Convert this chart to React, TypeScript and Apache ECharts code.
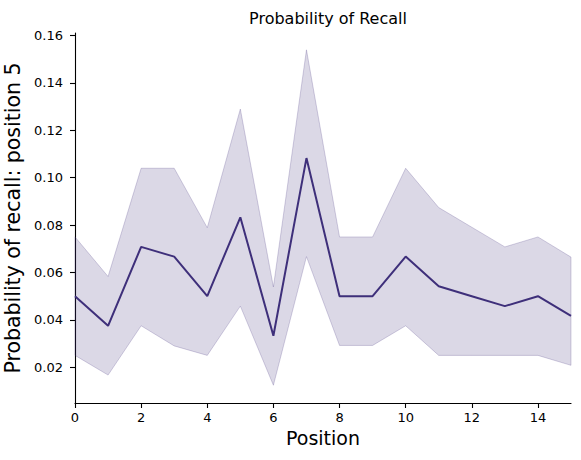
import React, { useEffect, useRef } from "react";
import * as echarts from "echarts";

const positions = [0, 1, 2, 3, 4, 5, 6, 7, 8, 9, 10, 11, 12, 13, 14, 15];
const meanRecall = [0.05, 0.0375, 0.0708, 0.0667, 0.05, 0.0833, 0.0333, 0.1083, 0.05, 0.05, 0.0667, 0.0542, 0.05, 0.0458, 0.05, 0.0417];
const upperCI = [0.075, 0.0583, 0.104, 0.104, 0.0789, 0.129, 0.0539, 0.154, 0.075, 0.075, 0.104, 0.0874, 0.0791, 0.0708, 0.075, 0.0665];
const lowerCI = [0.025, 0.0167, 0.0375, 0.029, 0.025, 0.0458, 0.0124, 0.0667, 0.0292, 0.0292, 0.0375, 0.025, 0.025, 0.025, 0.025, 0.0208];
const xTicks = [0, 2, 4, 6, 8, 10, 12, 14];
const yTicks = [0.02, 0.04, 0.06, 0.08, 0.1, 0.12, 0.14, 0.16];

const LINE = "#3e2f7a";
const FILL = "rgba(62,47,122,0.19)";
const EDGE = "rgba(62,47,122,0.22)";
const FONT = "DejaVu Sans";

export default function App() {
  const ref = useRef<HTMLDivElement>(null);
  useEffect(() => {
    if (!ref.current) return;
    const chart = echarts.init(ref.current, undefined, { renderer: "svg" });
    const bandData = positions.map((x, i) => [x, lowerCI[i], upperCI[i]]);
    chart.setOption({
      animation: false,
      textStyle: { fontFamily: FONT },
      title: {
        text: "Probability of Recall",
        left: 323,
        textAlign: "center",
        top: 5,
        textStyle: { fontFamily: FONT, fontSize: 16, fontWeight: "normal", color: "#000" },
      },
      grid: { left: 75, right: 10, top: 33, bottom: 57, containLabel: false, outerBoundsMode: "none" },
      xAxis: {
        type: "value",
        min: 0,
        max: 15,
        name: "Position",
        nameLocation: "middle",
        nameGap: 24,
        nameTextStyle: { fontFamily: FONT, fontSize: 19, color: "#000" },
        axisLine: { show: true, onZero: false, lineStyle: { color: "#000", width: 1.1 } },
        axisTick: { show: true, length: 5, lineStyle: { color: "#000", width: 1.1 }, customValues: xTicks },
        axisLabel: { fontFamily: FONT, fontSize: 13, color: "#000", margin: 8, customValues: xTicks },
        splitLine: { show: false },
      },
      yAxis: {
        type: "value",
        min: 0.0049,
        max: 0.1611,
        name: "Probability of recall: position 5",
        nameLocation: "middle",
        nameGap: 50,
        nameTextStyle: { fontFamily: FONT, fontSize: 20.5, color: "#000" },
        axisLine: { show: true, lineStyle: { color: "#000", width: 1.1 } },
        axisTick: { show: true, length: 5, lineStyle: { color: "#000", width: 1.1 }, customValues: yTicks },
        axisLabel: {
          fontFamily: FONT,
          fontSize: 13,
          color: "#000",
          margin: 12,
          customValues: yTicks,
          formatter: (v: number) => v.toFixed(2),
        },
        splitLine: { show: false },
      },
      series: [
        {
          type: "custom",
          name: "ci",
          data: bandData,
          encode: { x: 0, y: [1, 2] },
          silent: true,
          z: 1,
          renderItem: (params: any, api: any) => {
            if (params.dataIndex !== 0) return null;
            const upper = bandData.map((d) => api.coord([d[0], d[2]]));
            const lower = bandData.map((d) => api.coord([d[0], d[1]])).reverse();
            return {
              type: "polygon",
              shape: { points: upper.concat(lower) },
              style: { fill: FILL, stroke: EDGE, lineWidth: 1 },
            };
          },
        },
        {
          type: "line",
          name: "mean",
          data: positions.map((x, i) => [x, meanRecall[i]]),
          symbol: "none",
          lineStyle: { color: LINE, width: 2 },
          z: 3,
        },
      ],
    });
    return () => chart.dispose();
  }, []);
  return <div ref={ref} style={{ width: 581, height: 460, position: "absolute", left: 0, top: 0 }} />;
}
